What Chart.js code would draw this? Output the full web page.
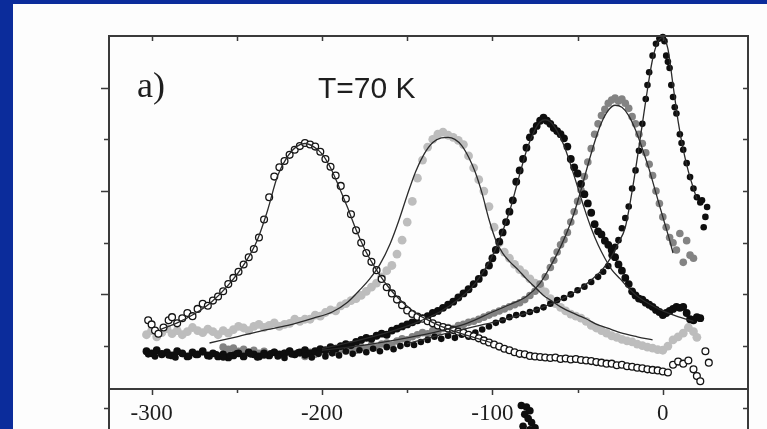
<!DOCTYPE html>
<html>
<head>
<meta charset="utf-8">
<title>T=70 K</title>
<script src="https://cdn.jsdelivr.net/npm/chart.js@4.4.0/dist/chart.umd.min.js"></script>
<style>
  html, body { margin: 0; padding: 0; background: #fff; }
  #wrap { position: relative; width: 767px; height: 429px; overflow: hidden; background: #fdfdfd; }
  .edge-left { position: absolute; left: 0; top: 0; width: 13px; height: 429px; background: #0b2c9b; }
  .edge-top { position: absolute; left: 0; top: 0; width: 767px; height: 4px; background: #0b2c9b; }
  #plot { position: absolute; left: 0; top: 0; }
</style>
</head>
<body>
<div id="wrap">
  <div class="edge-left"></div>
  <div class="edge-top"></div>
  <canvas id="plot" width="767" height="429"></canvas>
</div>
<script>
// axis ticks
const xLabels = [-300, -200, -100, 0];
const xMinor = [-300, -250, -200, -150, -100, -50, 0];
const yTicks = [-0.2, 1, 2, 3, 4, 5, 6];

// open circles, peak near -210
const openCircles = [
  [-302,1.50],[-300,1.42],[-298,1.30],[-296,1.24],[-293,1.36],[-290,1.50],[-288,1.56],[-285,1.44],
  [-282,1.54],[-279,1.64],[-276,1.58],[-273,1.72],[-270,1.82],[-267,1.78],[-264,1.88],[-261,1.96],
  [-258,2.06],[-255,2.20],[-252,2.32],[-249,2.44],[-246,2.58],[-243,2.72],[-240,2.88],[-237,3.10],
  [-234,3.45],[-231,3.88],[-228,4.28],[-225,4.46],[-222,4.58],[-219,4.70],[-216,4.80],[-213,4.87],
  [-210,4.93],[-207,4.90],[-204,4.86],[-201,4.76],[-198,4.62],[-195,4.47],[-192,4.30],[-189,4.10],
  [-186,3.85],[-183,3.55],[-180,3.24],[-177,3.00],[-174,2.80],[-171,2.63],[-168,2.47],[-165,2.30],
  [-162,2.14],[-159,2.02],[-156,1.90],[-153,1.79],[-150,1.69],[-147,1.62],[-144,1.57],[-141,1.53],
  [-138,1.48],[-135,1.44],[-132,1.40],[-129,1.37],[-126,1.34],[-123,1.31],[-120,1.28],[-117,1.26],
  [-114,1.22],[-111,1.19],[-108,1.15],[-105,1.11],[-102,1.07],[-99,1.03],[-96,0.99],[-93,0.95],
  [-90,0.92],[-87,0.88],[-84,0.85],[-81,0.84],[-78,0.81],[-75,0.80],[-72,0.79],[-69,0.78],
  [-66,0.77],[-63,0.78],[-60,0.75],[-57,0.76],[-54,0.74],[-51,0.75],[-48,0.73],[-45,0.72],
  [-42,0.71],[-39,0.69],[-36,0.68],[-33,0.66],[-30,0.66],[-27,0.63],[-24,0.64],[-21,0.61],
  [-18,0.60],[-15,0.58],[-12,0.57],[-9,0.55],[-6,0.54],[-3,0.53],[0,0.51],[3,0.49],
  [6,0.64],[9,0.70],[12,0.66],[15,0.72],[18,0.55],[20,0.42],[22,0.32],[25,0.90],[27,0.68]
];

// light grey, peak near -127
const lightGrey = [
  [-303,1.22],[-300,1.30],[-297,1.18],[-294,1.26],[-291,1.34],[-288,1.24],[-285,1.30],[-282,1.22],
  [-279,1.28],[-276,1.36],[-273,1.30],[-270,1.26],[-267,1.33],[-264,1.28],[-261,1.22],[-258,1.30],
  [-255,1.25],[-252,1.32],[-249,1.38],[-246,1.35],[-243,1.30],[-240,1.38],[-237,1.42],[-234,1.36],
  [-231,1.40],[-228,1.45],[-225,1.38],[-222,1.42],[-219,1.44],[-216,1.52],[-213,1.48],[-210,1.52],
  [-207,1.52],[-204,1.60],[-201,1.58],[-198,1.65],[-195,1.70],[-192,1.68],[-189,1.78],[-186,1.82],
  [-183,1.88],[-180,1.92],[-177,1.98],[-174,2.06],[-171,2.14],[-168,2.22],[-165,2.34],[-162,2.46],
  [-159,2.56],[-156,2.78],[-153,3.05],[-150,3.40],[-147,3.80],[-144,4.25],[-141,4.60],[-138,4.85],
  [-135,5.00],[-132,5.10],[-129,5.14],[-126,5.08],[-123,5.04],[-120,4.98],[-117,4.90],[-114,4.68],
  [-111,4.45],[-108,4.22],[-105,4.00],[-102,3.70],[-99,3.30],[-96,3.00],[-93,2.82],[-90,2.70],
  [-87,2.58],[-84,2.48],[-81,2.40],[-78,2.30],[-75,2.22],[-72,2.14],[-69,2.05],[-66,1.92],
  [-63,1.82],[-60,1.75],[-57,1.68],[-54,1.62],[-51,1.58],[-48,1.54],[-45,1.48],[-42,1.40],
  [-39,1.35],[-36,1.30],[-33,1.25],[-30,1.20],[-27,1.17],[-24,1.13],[-21,1.10],[-18,1.08],
  [-15,1.04],[-12,1.01],[-9,0.98],[-6,0.96],[-3,0.93],[0,0.92],[3,1.00],[6,1.12],
  [9,1.18],[12,1.25],[15,1.36],[18,1.28],[20,1.17]
];

// black, peak near -70
const blackMid = [
  [-303,0.90],[-300,0.86],[-297,0.92],[-294,0.84],[-291,0.88],[-288,0.82],[-285,0.90],[-282,0.86],
  [-279,0.80],[-276,0.88],[-273,0.84],[-270,0.90],[-267,0.82],[-264,0.86],[-261,0.80],[-258,0.84],
  [-255,0.78],[-252,0.82],[-249,0.86],[-246,0.80],[-243,0.88],[-240,0.84],[-237,0.80],[-234,0.86],
  [-231,0.82],[-228,0.88],[-225,0.84],[-222,0.86],[-219,0.90],[-216,0.84],[-213,0.88],[-210,0.92],
  [-207,0.86],[-204,0.90],[-201,0.94],[-198,0.92],[-195,0.98],[-192,0.95],[-189,1.00],[-186,1.04],
  [-183,1.02],[-180,1.08],[-177,1.12],[-174,1.16],[-171,1.14],[-168,1.20],[-165,1.24],[-162,1.22],
  [-159,1.30],[-156,1.34],[-153,1.38],[-150,1.42],[-147,1.46],[-144,1.50],[-141,1.54],[-138,1.58],
  [-135,1.64],[-132,1.68],[-129,1.74],[-126,1.80],[-123,1.86],[-120,1.94],[-117,2.02],[-114,2.10],
  [-111,2.20],[-108,2.30],[-105,2.42],[-102,2.56],[-100,2.70],[-98,2.86],[-96,3.02],[-94,3.20],
  [-92,3.40],[-90,3.60],[-88,3.82],[-86,4.18],[-84,4.40],[-82,4.62],[-80,4.84],[-78,5.04],
  [-76,5.16],[-74,5.26],[-72,5.36],[-70,5.42],[-68,5.36],[-66,5.30],[-64,5.22],[-62,5.16],
  [-60,5.10],[-58,5.02],[-56,4.86],[-54,4.62],[-52,4.46],[-50,4.34],[-48,4.14],[-46,3.94],
  [-44,3.76],[-42,3.58],[-40,3.36],[-38,3.22],[-36,3.16],[-34,3.04],[-32,2.96],[-30,2.86],
  [-28,2.72],[-26,2.58],[-24,2.46],[-22,2.32],[-20,2.20],[-18,2.06],[-16,1.98],[-14,1.92],
  [-12,1.90],[-10,1.84],[-8,1.80],[-6,1.76],[-4,1.70],[-2,1.66],[0,1.60],[2,1.64],
  [4,1.68],[6,1.72],[8,1.76],[10,1.74],[12,1.76],[14,1.64],[16,1.52],[18,1.50],[20,1.56],[22,1.54]
];

// mid grey, peak near -28
const midGrey = [
  [-258,0.98],[-255,0.94],[-252,0.96],[-249,0.90],[-246,0.94],[-243,0.88],[-240,0.92],[-237,0.86],
  [-234,0.90],[-231,0.84],[-228,0.88],[-225,0.82],[-222,0.86],[-219,0.90],[-216,0.84],[-213,0.86],
  [-210,0.80],[-207,0.88],[-204,0.84],[-201,0.90],[-198,0.86],[-195,0.92],[-192,0.88],[-189,0.94],
  [-186,0.90],[-183,0.96],[-180,0.92],[-177,0.98],[-174,0.96],[-171,1.02],[-168,0.98],[-165,1.04],
  [-162,1.06],[-159,1.02],[-156,1.10],[-153,1.14],[-150,1.12],[-147,1.18],[-144,1.22],[-141,1.26],
  [-138,1.24],[-135,1.30],[-132,1.28],[-129,1.34],[-126,1.36],[-123,1.34],[-120,1.40],[-117,1.42],
  [-114,1.46],[-111,1.48],[-108,1.52],[-105,1.56],[-102,1.60],[-99,1.64],[-96,1.68],[-93,1.72],
  [-90,1.76],[-87,1.80],[-84,1.84],[-81,1.90],[-78,1.98],[-75,2.06],[-72,2.20],[-69,2.34],
  [-66,2.52],[-64,2.66],[-62,2.82],[-60,2.96],[-58,3.06],[-56,3.20],[-54,3.40],[-52,3.60],
  [-50,3.80],[-48,4.02],[-46,4.28],[-44,4.56],[-42,4.82],[-40,5.10],[-38,5.30],[-36,5.46],
  [-34,5.58],[-32,5.70],[-30,5.76],[-28,5.80],[-26,5.74],[-24,5.78],[-22,5.70],[-20,5.60],
  [-18,5.44],[-16,5.30],[-14,5.10],[-12,4.92],[-10,4.74],[-8,4.52],[-6,4.30],[-4,4.00],
  [-2,3.76],[0,3.50],[2,3.30],[4,3.10],[6,3.00],[8,2.86],[10,3.18],[12,2.62],[14,3.04],[16,2.76],[18,2.70]
];

// black, peak at 0
const blackEdge = [
  [-302,0.84],[-298,0.80],[-294,0.86],[-290,0.82],[-286,0.78],[-282,0.85],[-278,0.80],[-274,0.83],
  [-270,0.88],[-266,0.80],[-262,0.84],[-258,0.78],[-254,0.82],[-250,0.86],[-246,0.80],[-242,0.84],
  [-238,0.78],[-234,0.82],[-230,0.86],[-226,0.80],[-222,0.77],[-218,0.84],[-214,0.88],[-210,0.82],
  [-206,0.78],[-202,0.85],[-198,0.80],[-194,0.86],[-190,0.82],[-186,0.90],[-182,0.85],[-178,0.92],
  [-174,0.88],[-170,0.95],[-166,0.90],[-162,0.98],[-158,0.94],[-154,1.00],[-150,1.04],[-146,1.02],
  [-142,1.08],[-138,1.12],[-134,1.18],[-130,1.14],[-126,1.20],[-122,1.16],[-118,1.22],[-114,1.18],
  [-110,1.26],[-106,1.32],[-102,1.38],[-98,1.45],[-94,1.50],[-90,1.56],[-86,1.60],[-82,1.62],
  [-78,1.66],[-74,1.70],[-70,1.75],[-66,1.82],[-62,1.89],[-58,1.93],[-54,2.00],[-50,2.08],
  [-46,2.15],[-42,2.24],[-38,2.34],[-35,2.44],[-32,2.55],[-30,2.76],[-28,2.92],[-26,3.05],
  [-24,3.28],[-22,3.48],[-20,3.70],[-18,4.05],[-16,4.40],[-14,4.78],[-12,5.30],[-10,5.78],
  [-9,6.05],[-8,6.30],[-6,6.62],[-4,6.85],[-2,6.95],[0,6.98],[1,6.90],[2,6.62],
  [3,6.50],[4,6.38],[5,6.05],[6,5.82],[7,5.62],[8,5.50],[10,5.10],[11,4.93],
  [12,4.80],[14,4.54],[16,4.27],[18,4.05],[20,3.88],[22,3.78],[23,3.82],[24,3.30],[25,3.50],[26,3.69]
];

// top of the lower panel showing under the axis
const lowerPeak = [[-83,-0.15],[-80,-0.18],[-78,-0.25],[-81,-0.32],[-79,-0.40],[-77,-0.48],[-82,-0.55],[-78,-0.62],[-75,-0.58]];

// fitted curves
const fitOpen = [
  [-295,1.32],[-285,1.45],[-275,1.62],[-265,1.85],[-255,2.18],[-245,2.62],[-238,3.05],[-232,3.62],
  [-226,4.30],[-220,4.68],[-215,4.86],[-210,4.92],[-205,4.86],[-200,4.72],[-195,4.45],[-190,4.08],
  [-185,3.68],[-180,3.25],[-175,2.88],[-170,2.58],[-165,2.32],[-160,2.10],[-155,1.92],[-150,1.77],
  [-145,1.64],[-140,1.54],[-130,1.38],[-120,1.26],[-110,1.16],[-100,1.06]
];
const fitLight = [
  [-266,1.06],[-250,1.18],[-235,1.30],[-220,1.40],[-205,1.54],[-194,1.66],[-185,1.85],[-178,2.08],
  [-172,2.30],[-166,2.58],[-160,2.98],[-155,3.42],[-150,3.92],[-145,4.38],[-140,4.72],[-135,4.94],
  [-130,5.03],[-126,5.04],[-122,5.00],[-118,4.88],[-114,4.66],[-110,4.36],[-106,3.95],[-102,3.45],
  [-98,3.05],[-94,2.80],[-90,2.64],[-85,2.48],[-80,2.30],[-75,2.14],[-70,1.98],[-66,1.89],
  [-60,1.76],[-50,1.60],[-45,1.53],[-40,1.44],[-30,1.32],[-25,1.26],[-15,1.18],[-6,1.12]
];
const fitBlackMid = [
  [-200,0.95],[-180,1.10],[-160,1.28],[-145,1.45],[-130,1.68],[-120,1.90],[-110,2.22],[-102,2.62],
  [-96,3.05],[-90,3.60],[-85,4.20],[-80,4.78],[-76,5.12],[-72,5.34],[-69,5.38],[-66,5.34],
  [-62,5.16],[-58,4.88],[-54,4.50],[-50,4.08],[-46,3.66],[-42,3.28],[-38,2.96],[-34,2.70],
  [-30,2.48],[-25,2.30],[-20,2.12],[-14,1.94],[-6,1.78],[0,1.68],[8,1.58],[18,1.48]
];
const fitMidGrey = [
  [-200,0.92],[-175,1.02],[-150,1.16],[-130,1.30],[-115,1.44],[-100,1.66],[-90,1.80],[-80,1.96],
  [-72,2.22],[-65,2.60],[-60,2.92],[-56,3.22],[-52,3.58],[-48,4.02],[-44,4.50],[-40,4.95],
  [-36,5.32],[-32,5.56],[-28,5.66],[-24,5.62],[-20,5.46],[-16,5.18],[-12,4.82],[-8,4.42],
  [-4,3.96],[0,3.50],[4,3.05],[6,2.80]
];
const fitBlackEdge = [
  [-150,1.05],[-130,1.22],[-110,1.38],[-95,1.50],[-80,1.64],[-70,1.76],[-60,1.90],[-50,2.08],
  [-42,2.28],[-35,2.50],[-30,2.74],[-26,3.00],[-22,3.30],[-18,4.00],[-14,4.85],[-10,5.75],
  [-6,6.55],[-3,6.88],[0,6.97],[3,6.75],[6,6.05],[9,5.35],[12,4.80],[15,4.38],[18,4.05],[20,3.85]
];

const toPoints = rows => rows.map(r => ({ x: r[0], y: r[1] }));

function markers(rows, fill, edge, radius, order, borderWidth) {
  return {
    data: toPoints(rows),
    showLine: false,
    pointRadius: radius,
    pointBackgroundColor: fill,
    pointBorderColor: edge,
    pointBorderWidth: borderWidth || 0,
    order: order,
    clip: false
  };
}

function fitLine(rows) {
  return {
    data: toPoints(rows),
    showLine: true,
    pointRadius: 0,
    borderColor: "#2b2b2b",
    borderWidth: 1.3,
    cubicInterpolationMode: "monotone",
    fill: false,
    order: 1
  };
}

// box, tick marks and text drawn on top of the datasets
const framePlugin = {
  id: "frame",
  afterDatasetsDraw(chart) {
    const { ctx, chartArea: a, scales } = chart;
    const xs = scales.x, ys = scales.y;
    ctx.save();

    // points of the lower panel sit outside the chart area, so they are drawn here
    ctx.fillStyle = "#0e0e0e";
    lowerPeak.forEach(p => {
      ctx.beginPath();
      ctx.arc(xs.getPixelForValue(p[0]), ys.getPixelForValue(p[1]), 3.8, 0, Math.PI * 2);
      ctx.fill();
    });

    ctx.strokeStyle = "#3a3a3a";
    ctx.lineWidth = 2;
    ctx.strokeRect(a.left, a.top, a.right - a.left, a.bottom - a.top);
    // side lines run on into the panel below
    ctx.beginPath();
    ctx.moveTo(a.left, a.bottom); ctx.lineTo(a.left, chart.height);
    ctx.moveTo(a.right, a.bottom); ctx.lineTo(a.right, chart.height);
    ctx.stroke();

    ctx.lineWidth = 1.5;
    ctx.beginPath();
    xMinor.forEach(v => {
      const px = Math.round(xs.getPixelForValue(v)) + 0.5;
      const len = v % 100 === 0 ? 6 : 4;
      ctx.moveTo(px, a.bottom); ctx.lineTo(px, a.bottom + len);
      ctx.moveTo(px, a.top); ctx.lineTo(px, a.top + 5);
    });
    yTicks.forEach(v => {
      const py = Math.round(ys.getPixelForValue(v)) + 0.5;
      const len = v > 0 && v % 2 === 0 ? 8 : 5;
      ctx.moveTo(a.left - len, py); ctx.lineTo(a.left, py);
      ctx.moveTo(a.right - 5, py); ctx.lineTo(a.right + 1, py);
    });
    ctx.stroke();

    ctx.fillStyle = "#1e1e1e";
    ctx.font = '23px "Liberation Serif", "DejaVu Serif", serif';
    ctx.textAlign = "center";
    ctx.textBaseline = "alphabetic";
    xLabels.forEach(v => {
      ctx.fillText(String(v), xs.getPixelForValue(v), a.bottom + 31);
    });

    ctx.textAlign = "left";
    ctx.font = '36px "Liberation Serif", serif';
    ctx.fillText("a)", 137, 97);
    ctx.font = '30px "Liberation Sans", Arial, sans-serif';
    ctx.fillText("T=70 K", 318, 98);
    ctx.restore();
  }
};

new Chart(document.getElementById("plot"), {
  type: "scatter",
  data: {
    datasets: [
      markers(lightGrey, "#bdbdbd", "#bdbdbd", 4.4, 7),
      markers(midGrey, "#838383", "#838383", 3.8, 6),
      markers(blackMid, "#0e0e0e", "#0e0e0e", 3.9, 5),
      markers(blackEdge, "#0e0e0e", "#0e0e0e", 3.3, 4),
      markers(openCircles, "#ffffff", "#141414", 3.4, 3, 1.3),
      fitLine(fitOpen),
      fitLine(fitLight),
      fitLine(fitBlackMid),
      fitLine(fitMidGrey),
      fitLine(fitBlackEdge)
    ]
  },
  options: {
    responsive: false,
    animation: false,
    layout: { padding: { left: 109, right: 19, top: 36, bottom: 40 } },
    plugins: { legend: { display: false }, tooltip: { enabled: false } },
    scales: {
      x: { type: "linear", min: -325, max: 50, display: false },
      y: { type: "linear", min: 0.17, max: 7, display: false }
    }
  },
  plugins: [framePlugin]
});
</script>
</body>
</html>
